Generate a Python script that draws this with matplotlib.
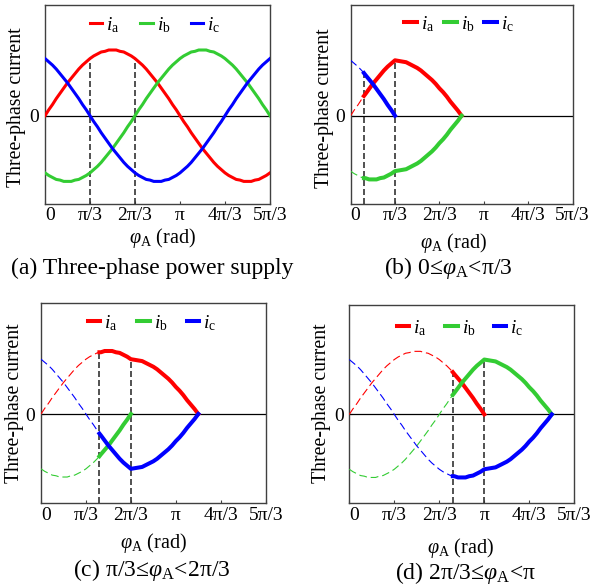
import numpy as np
import matplotlib
matplotlib.use("Agg")
import matplotlib.pyplot as plt

plt.rcParams['font.family'] = ['Liberation Serif', 'DejaVu Serif']
plt.rcParams['mathtext.fontset'] = 'custom'
plt.rcParams['mathtext.rm'] = 'Liberation Serif'
plt.rcParams['mathtext.it'] = 'Liberation Serif:italic'
plt.rcParams['mathtext.bf'] = 'Liberation Serif:bold'

# ---------------- data (angles in degrees, currents in per-unit) ----------------
PHI_DEG = list(range(0, 301, 5))
IA = [0, .09, .17, .26, .34, .42, .50, .57, .64, .71, .77, .82, .87, .91, .94, .97, .98, 1, 1,
      1, .98, .97, .94, .91, .87, .82, .77, .71, .64, .57, .50, .42, .34, .26, .17, .09, 0,
      -.09, -.17, -.26, -.34, -.42, -.50, -.57, -.64, -.71, -.77, -.82, -.87, -.91, -.94,
      -.97, -.98, -1, -1,
      -1, -.98, -.97, -.94, -.91, -.87]
IB = [-.87, -.91, -.94, -.97, -.98, -1, -1, -1, -.98, -.97, -.94, -.91, -.87,
      -.82, -.77, -.71, -.64, -.57, -.50, -.42, -.34, -.26, -.17, -.09, 0,
      .09, .17, .26, .34, .42, .50, .57, .64, .71, .77, .82, .87,
      .91, .94, .97, .98, 1, 1, 1, .98, .97, .94, .91, .87,
      .82, .77, .71, .64, .57, .50, .42, .34, .26, .17, .09, 0]
IC = [.87, .82, .77, .71, .64, .57, .50, .42, .34, .26, .17, .09, 0,
      -.09, -.17, -.26, -.34, -.42, -.50, -.57, -.64, -.71, -.77, -.82, -.87,
      -.91, -.94, -.97, -.98, -1, -1, -1, -.98, -.97, -.94, -.91, -.87,
      -.82, -.77, -.71, -.64, -.57, -.50, -.42, -.34, -.26, -.17, -.09, 0,
      .09, .17, .26, .34, .42, .50, .57, .64, .71, .77, .82, .87]

# freewheeling decay after the commutation point (offset in degrees -> current)
DECAY_DEG = [0, 5, 10, 15, 20, 25, 30, 35, 40, 45, 50, 55, 60, 65, 70, 75, 80, 85, 90]
DECAY = [.87, .86, .85, .84, .81, .78, .75, .71, .66, .61, .56, .50, .43, .37, .30,
         .22, .15, .08, 0]

XTICK_DEG = [0, 60, 120, 180, 240, 300]
XTICK_LABELS = ['0', 'π/3', '2π/3', 'π', '4π/3', '5π/3']

# panel (a) marker lines
A_MARK_DEG = [60, 120]
A_MARK_TOP = [.87, .87]

# panel (b)  0 <= phi < pi/3 : switch angle, commutation angle, start values,
# decay direction of each phase (0 = phase ends at commutation)
B_SWITCH, B_KINK = 18, 60
B_START = [.31, -.98, .67]
B_DECAY_SIGN = [1, -1, 0]
B_MARK_TOP = [.67, .87]

# panel (c)  pi/3 <= phi < 2pi/3
C_SWITCH, C_KINK = 78, 120
C_START = [.98, -.67, -.31]
C_DECAY_SIGN = [1, 0, -1]
C_MARK_TOP = [.98, .87]

# panel (d)  2pi/3 <= phi < pi
D_SWITCH, D_KINK = 138, 180
D_START = [.67, .31, -.98]
D_DECAY_SIGN = [0, 1, -1]
D_MARK_TOP = [.67, .87]

LABELS = [r'$i_{\mathrm{a}}$', r'$i_{\mathrm{b}}$', r'$i_{\mathrm{c}}$']
COLORS = ['#ff0000', '#33cc33', '#0000ff']
CAPTIONS = ['(a) Three-phase power supply',
            r'(b) 0≤$\varphi_{\mathrm{A}}$<π/3',
            r'(c) π/3≤$\varphi_{\mathrm{A}}$<2π/3',
            r'(d) 2π/3≤$\varphi_{\mathrm{A}}$<π']

# ---------------- layout ----------------
W, H = 591, 586
fig = plt.figure(figsize=(W / 100, H / 100), dpi=100)

# (left, top, right, bottom) in pixels
BOXES = [(45, 5, 270, 204), (350.6, 4.5, 572.6, 204),
         (41, 303.3, 265.7, 503.3), (349.3, 305, 574.3, 503.3)]
YLIMS = [(-1.344, 1.685), (-1.386, 1.746), (-1.417, 1.757), (-1.41, 1.735)]
LEG_C = [(155, 25), (459, 24), (152, 323), (460, 328)]
LEG_COLSP = [1.05, 0.5, 1.0, 0.95]
XLAB_C = [(162, 238), (453.5, 243), (153.5, 543), (460, 548)]
YLAB_C = [(16, 107.5), (325, 108.3), (15, 403), (321.7, 403)]
CAP_C = [(152, 268), (448.5, 268), (151.5, 570), (465, 573)]

SPINE = '#404040'


def to_ax(box, px, py):
    l, t, r, b = box
    return (px - l) / (r - l), (b - py) / (b - t)


def rad(lst):
    return np.radians(np.asarray(lst, dtype=float))


axes = []
for i, box in enumerate(BOXES):
    l, t, r, b = box
    ax = fig.add_axes([l / W, 1 - b / H, (r - l) / W, (b - t) / H])
    ax.set_xlim(0, np.radians(300))
    ax.set_ylim(*YLIMS[i])
    ax.axhline(0, color='black', lw=0.9, zorder=2)
    ax.set_xticks(rad(XTICK_DEG))
    ax.set_xticklabels(XTICK_LABELS)
    ax.set_yticks([0])
    ax.set_yticklabels(['0'])
    ax.tick_params(direction='in', length=2.5, width=0.8, color=SPINE,
                   labelsize=14, pad=2.5)
    ax.tick_params(axis='y', pad=4)
    ax.get_xticklabels()[0].set_ha('left')
    for s in ax.spines.values():
        s.set_color(SPINE)
        s.set_linewidth(1.0)
    ax.set_xlabel(r'$\varphi_{\mathrm{A}}$ (rad)', fontsize=14.5)
    ax.xaxis.set_label_coords(*to_ax(box, *XLAB_C[i]))
    ax.xaxis.label.set_va('center')
    ax.set_ylabel('Three-phase current', fontsize=14.3)
    ax.yaxis.set_label_coords(*to_ax(box, *YLAB_C[i]))
    ax.yaxis.label.set_va('center')
    fig.text(CAP_C[i][0] / W, 1 - CAP_C[i][1] / H, CAPTIONS[i],
             fontsize=17, ha='center', va='center')
    axes.append(ax)

DASH_KW = dict(color='#333333', lw=1.2, linestyles=(0, (3.6, 1.8)), zorder=3)
THIN_KW = dict(lw=0.8, dashes=(7.0, 3.5), zorder=3)
THICK_LW = 2.9
PHASES = [IA, IB, IC]


def legend(ax, handles, i):
    lx, ly = to_ax(BOXES[i], *LEG_C[i])
    ax.legend(handles=handles, loc='center', bbox_to_anchor=(lx, ly), ncol=3,
              frameon=False, fontsize=14, handlelength=0.65, handletextpad=0.2,
              columnspacing=LEG_COLSP[i], borderpad=0, borderaxespad=0)


def draw_switching(ax, i, switch, kink, starts, signs, mark_tops):
    ax.vlines(rad([switch, kink]), ax.get_ylim()[0], mark_tops, **DASH_KW)
    n_before = sum(1 for p in PHI_DEG if p < switch)
    n_kink = PHI_DEG.index(kink) + 1
    handles = []
    for vals, s0, sign, c, lab in zip(PHASES, starts, signs, COLORS, LABELS):
        # thin dashed: the undisturbed supply current before switching
        ax.plot(rad(PHI_DEG[:n_before] + [switch]), vals[:n_before] + [s0],
                color=c, **THIN_KW)
        # thick: conducting interval, then decay after commutation
        xs = [switch] + PHI_DEG[n_before:n_kink]
        ys = [s0] + vals[n_before:n_kink]
        if sign != 0:
            xs += [kink + d for d in DECAY_DEG[1:]]
            ys += [sign * v for v in DECAY[1:]]
        h, = ax.plot(rad(xs), ys, color=c, lw=THICK_LW, label=lab, zorder=4,
                     solid_joinstyle='round')
        handles.append(h)
    legend(ax, handles, i)


# (a)
ax = axes[0]
ax.vlines(rad(A_MARK_DEG), ax.get_ylim()[0], A_MARK_TOP, **DASH_KW)
hs = []
for v, c, lab in zip(PHASES, COLORS, LABELS):
    h, = ax.plot(rad(PHI_DEG), v, color=c, lw=2.2, label=lab, zorder=4,
                 solid_joinstyle='round')
    hs.append(h)
legend(ax, hs, 0)

draw_switching(axes[1], 1, B_SWITCH, B_KINK, B_START, B_DECAY_SIGN, B_MARK_TOP)
draw_switching(axes[2], 2, C_SWITCH, C_KINK, C_START, C_DECAY_SIGN, C_MARK_TOP)
draw_switching(axes[3], 3, D_SWITCH, D_KINK, D_START, D_DECAY_SIGN, D_MARK_TOP)

fig.savefig('out.png', dpi=100)
